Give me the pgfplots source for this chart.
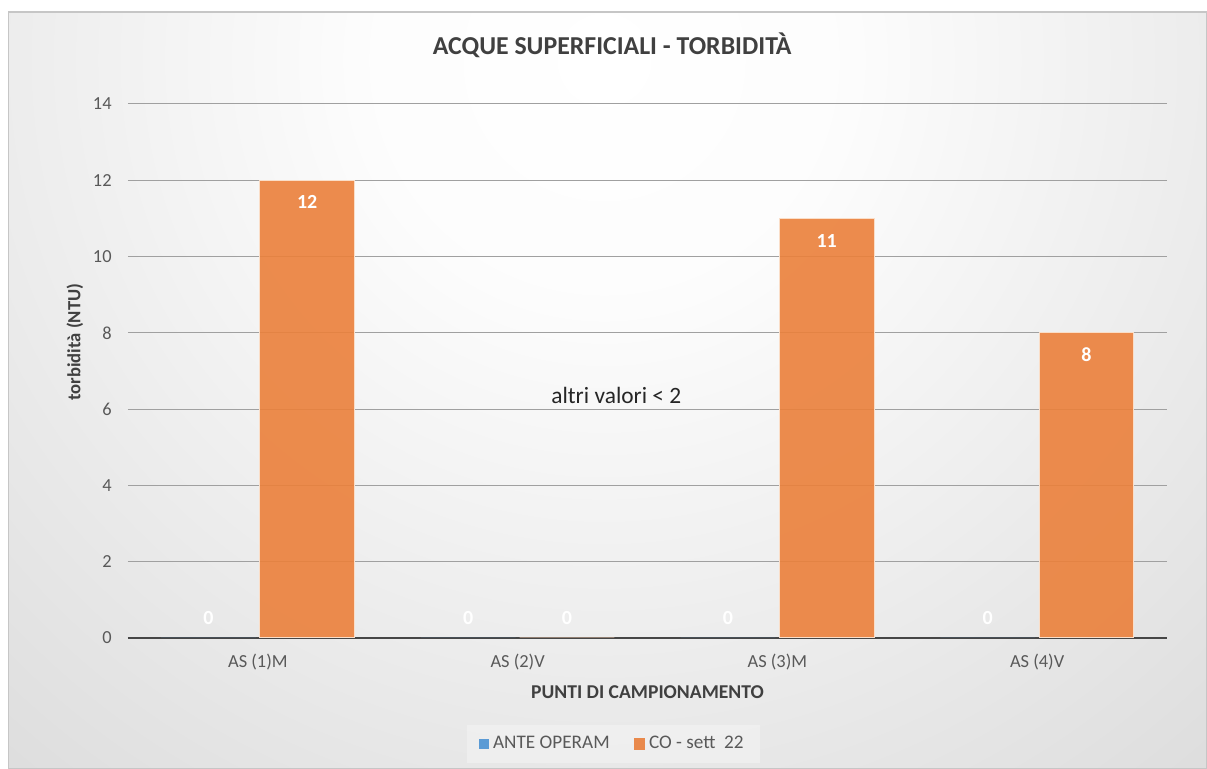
\documentclass[border=0pt]{standalone}
\usepackage{fontspec}
\setmainfont{Carlito}
\usepackage{pgfplots}
\pgfplotsset{compat=1.18}
\definecolor{barorange}{RGB}{235,128,59}
\definecolor{legorange}{RGB}{233,137,75}
\definecolor{barblue}{RGB}{91,155,213}
\definecolor{txt}{RGB}{89,89,89}
\definecolor{ttl}{RGB}{64,64,64}
\definecolor{gridc}{RGB}{160,160,160}
\definecolor{baredge}{RGB}{250,222,200}
\definecolor{axln}{RGB}{70,70,70}
\definecolor{annot}{RGB}{38,38,38}
\pgfdeclareradialshading{chartbg}{\pgfpoint{0bp}{0bp}}{rgb(0bp)=(1,1,1); rgb(6bp)=(0.99,0.99,0.99); rgb(50bp)=(0.68,0.68,0.68); rgb(71bp)=(0.68,0.68,0.68)}

\begin{document}
\begin{tikzpicture}[x=1pt,y=1pt]
\useasboundingbox (0,0) rectangle (603.5,384.5);
\fill[white] (0,0) rectangle (603.5,384.5);
\begin{scope}
\clip (4,0) rectangle (603.5,378.5);
\shade[shading=chartbg] (-198,-145.5) rectangle (802,854.5);
\end{scope}
\draw[gray!45, line width=0.6pt] (4.3,0.3) rectangle (603.2,378.5);
\begin{axis}[
  at={(64pt,65.5pt)}, anchor=south west,
  scale only axis, width=519.5pt, height=267pt,
  xmin=-0.5, xmax=3.5, ymin=0, ymax=14,
  ytick={0,2,...,14},
  xtick={0,1,2,3},
  xticklabels={AS (1)M, AS (2)V, AS (3)M, AS (4)V},
  /pgf/number format/assume math mode=true,
  axis lines*=left,
  y axis line style={draw=none},
  x axis line style={draw=axln, line width=1pt},
  major tick length=0pt,
  ymajorgrids,
  grid style={gridc, line width=0.5pt},
  tick label style={font=\fontsize{9.2}{10}\selectfont, text=txt},
  yticklabel style={anchor=east, inner sep=0pt, xshift=-8pt},
  xticklabel style={anchor=north, inner sep=0pt, yshift=-8pt},
  xlabel={PUNTI DI CAMPIONAMENTO},
  xlabel style={at={(axis description cs:0.5,0)}, anchor=center, yshift=-27pt,
    font=\bfseries\fontsize{9.8}{11}\selectfont, text=ttl},
  ylabel={torbidità (NTU)},
  ylabel style={at={([xshift=-26.5pt]axis description cs:0,0.554)}, anchor=center, rotate=0,
    font=\bfseries\fontsize{9.3}{11}\selectfont, text=ttl},
  title={ACQUE SUPERFICIALI - TORBIDITÀ},
  title style={at={([yshift=23.5pt]axis description cs:0.466,1)}, anchor=center,
    font=\bfseries\fontsize{12.9}{14}\selectfont, text=ttl},
  legend style={at={(0.467,-0.1985)}, anchor=center, legend columns=2,
    fill=white, fill opacity=0.3, text opacity=1, draw=none,
    font=\fontsize{9.6}{11}\selectfont, text=txt, inner xsep=6pt, inner ysep=3.5pt,
    /tikz/every even column/.append style={column sep=10pt}},
]
\addplot[ybar, bar width=0.365, bar shift=-0.19, fill=barblue, draw=none,
  legend image code/.code={\fill[barblue, fill opacity=1] (0pt,-2.6pt) rectangle (5.2pt,2.6pt);}]
  coordinates {(0,0) (1,0) (2,0) (3,0)};
\addlegendentry{ANTE OPERAM}
\addplot[ybar, bar width=0.365, bar shift=0.19, fill=barorange, fill opacity=0.9,
  draw=baredge, line width=0.5pt,
  legend image code/.code={\fill[legorange, fill opacity=1] (0pt,-2.6pt) rectangle (5.2pt,2.6pt);}]
  coordinates {(0,12) (1,0) (2,11) (3,8)};
\addlegendentry{CO - sett\ \ 22}
\addplot[forget plot, draw=none, mark=none, nodes near coords, point meta=explicit symbolic,
  every node near coord/.append style={anchor=center, text=white, inner sep=0pt,
    font=\bfseries\fontsize{10}{11}\selectfont}]
  coordinates {(-0.19,0.52)[0] (0.19,11.43)[12] (0.81,0.52)[0] (1.19,0.52)[0]
               (1.81,0.52)[0] (2.19,10.42)[11] (2.81,0.52)[0] (3.19,7.42)[8]};
\node[font=\fontsize{11.7}{13}\selectfont, text=annot] at (axis cs:1.38,6.35) {altri valori < 2};
\end{axis}
\end{tikzpicture}
\end{document}
